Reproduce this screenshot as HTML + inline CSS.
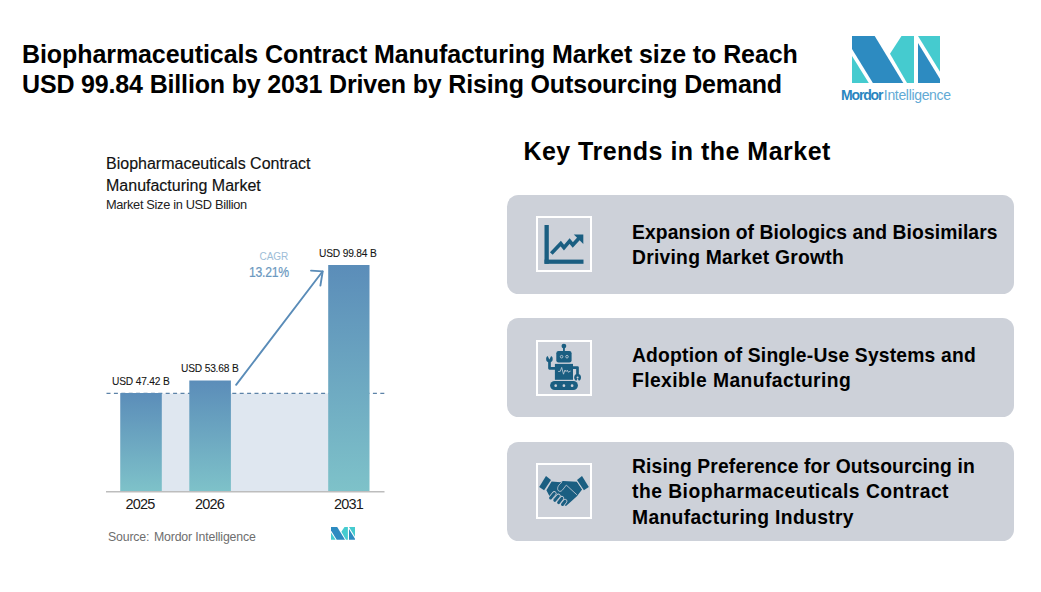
<!DOCTYPE html>
<html>
<head>
<meta charset="utf-8">
<style>
html,body{margin:0;padding:0;background:#fff;}
body{width:1041px;height:592px;position:relative;overflow:hidden;font-family:"Liberation Sans",sans-serif;}
.a{position:absolute;white-space:nowrap;}
#title{left:22px;top:38.7px;font-size:25px;line-height:30px;font-weight:700;color:#000;letter-spacing:-0.16px;}
#kt{left:523.4px;top:138.66px;font-size:25px;line-height:25px;font-weight:700;color:#000;letter-spacing:0.48px;}
.card{position:absolute;left:507px;width:507px;background:#cdd1d9;border-radius:11.5px;}
.ib{position:absolute;left:536px;width:52px;height:52px;border:2px solid #fff;}
.ib svg{position:absolute;left:-2px;top:-2px;}
.ct{position:absolute;left:632px;font-size:19.3px;line-height:25.2px;font-weight:700;color:#000;letter-spacing:0.5px;white-space:nowrap;}
#ctitle{left:106px;top:153px;font-size:16px;line-height:21.5px;color:#111;letter-spacing:0px;-webkit-text-stroke:0.15px #111;}
#csub{left:106px;top:199.3px;font-size:12.8px;line-height:12.8px;color:#222;letter-spacing:-0.33px;}
.val{font-size:11.4px;line-height:11.4px;color:#151515;letter-spacing:-0.2px;-webkit-text-stroke:0.1px #151515;transform:scaleX(0.895);transform-origin:0 0;}
.yr{font-size:14.5px;line-height:14.5px;color:#1a1a1a;letter-spacing:-0.8px;}
</style>
</head>
<body>
<div class="a" id="title"><span style="letter-spacing:-0.08px">Biopharmaceuticals Contract Manufacturing Market size to Reach</span><br><span>USD 99.84 Billion by 2031 Driven by Rising Outsourcing Demand</span></div>

<!-- logo -->
<svg class="a" id="logo" style="left:852px;top:36px" width="88" height="47" viewBox="0 0 88 47">
<polygon points="0,0 22.7,0 51.3,47 20.9,47 0,13.1" fill="#2d8bc1"/>
<polygon points="0,20 0,47 16.8,47" fill="#45cbcf"/>
<polygon points="49.5,0 62,0 62,47 55,47 38,17.7" fill="#45cbcf"/>
<polygon points="66,0 88,0 88,35.7" fill="#45cbcf"/>
<polygon points="66,7.1 88,43 88,47 66,47" fill="#2d8bc1"/>
</svg>
<div class="a" id="logotxt" style="left:841px;top:86.5px;font-size:14px;line-height:16px;"><span style="font-weight:700;color:#2a86bf;letter-spacing:-1.15px">Mordor</span><span style="color:#62aad5;letter-spacing:-0.33px;margin-left:1.5px">Intelligence</span></div>

<!-- chart -->
<div class="a" id="ctitle">Biopharmaceuticals Contract<br>Manufacturing Market</div>
<div class="a" id="csub">Market Size in USD Billion</div>

<svg class="a" id="chart" style="left:0;top:0" width="520" height="592">
<defs>
<linearGradient id="g1" x1="0" y1="0" x2="0" y2="1">
<stop offset="0" stop-color="#5b8db9"/>
<stop offset="1" stop-color="#7ec2c9"/>
</linearGradient>
</defs>
<rect x="120" y="393.5" width="249" height="98" fill="#dfe7f0"/>
<line x1="106.5" y1="393.4" x2="385" y2="393.4" stroke="#5d83a8" stroke-width="1.3" stroke-dasharray="4 3.4"/>
<rect x="120.3" y="393" width="41.5" height="98.5" fill="url(#g1)"/>
<rect x="189.3" y="380.5" width="41.6" height="111" fill="url(#g1)"/>
<rect x="328.2" y="265" width="41.3" height="226.5" fill="url(#g1)"/>
<line x1="106" y1="491.8" x2="384.5" y2="491.8" stroke="#bdbdbd" stroke-width="1.4"/>
<g stroke="#5a8cb8" stroke-width="1.9" fill="none" stroke-linecap="round" stroke-linejoin="round">
<line x1="236.1" y1="384.8" x2="322.5" y2="271.5"/>
<polyline points="311,270.6 322.7,271.4 320.4,285.6"/>
</g>
</svg>

<div class="a val" id="v1" style="left:111.8px;top:375.85px">USD 47.42 B</div>
<div class="a val" id="v2" style="left:180.8px;top:362.85px">USD 53.68 B</div>
<div class="a val" id="v3" style="left:318.8px;top:247.55px">USD 99.84 B</div>
<div class="a" id="cagr" style="left:259.6px;top:252px;font-size:10px;line-height:10px;color:#9dbdd7;letter-spacing:-0.1px">CAGR</div>
<div class="a" id="cagrv" style="left:249px;top:264.5px;font-size:14px;line-height:14px;color:#6a98c0;letter-spacing:-0.3px;-webkit-text-stroke:0.2px #6a98c0;transform:scaleX(0.87);transform-origin:0 0">13.21%</div>

<div class="a yr" id="y1" style="left:125.5px;top:497px">2025</div>
<div class="a yr" id="y2" style="left:195px;top:497px">2026</div>
<div class="a yr" id="y3" style="left:334px;top:497px">2031</div>

<div class="a" id="src" style="left:108px;top:530.5px;font-size:12.3px;line-height:12.3px;color:#6e6e6e;letter-spacing:-0.15px">Source:<span style="margin-left:1.3px"> </span>Mordor Intelligence</div>
<svg class="a" id="slogo" style="left:331px;top:527.3px" width="24" height="12.8" viewBox="0 0 88 47">
<polygon points="0,0 22.7,0 51.3,47 20.9,47 0,13.1" fill="#2d8bc1"/>
<polygon points="0,20 0,47 16.8,47" fill="#45cbcf"/>
<polygon points="49.5,0 62,0 62,47 55,47 38,17.7" fill="#45cbcf"/>
<polygon points="66,0 88,0 88,35.7" fill="#45cbcf"/>
<polygon points="66,7.1 88,43 88,47 66,47" fill="#2d8bc1"/>
</svg>

<!-- key trends -->
<div class="a" id="kt">Key Trends in the Market</div>

<div class="card" id="card1" style="top:195.2px;height:99px"></div>
<div class="card" id="card2" style="top:318.4px;height:98.5px"></div>
<div class="card" id="card3" style="top:442.4px;height:98.2px"></div>

<!-- icon 1: chart -->
<div class="ib" style="top:216px">
<svg width="56" height="56" viewBox="0 0 56 56">
<g fill="#1a5e81">
<rect x="8.5" y="9" width="4.3" height="38.8"/>
<rect x="8.5" y="43.6" width="39" height="4.2"/>
<polygon points="37.8,18.4 47.3,18.4 47.3,27.9"/>
</g>
<polyline points="15.3,37.6 24.8,27.6 28,31.6 33.6,25.1 36.8,28.9 43,22.2" fill="none" stroke="#1a5e81" stroke-width="3.7" stroke-linejoin="miter" stroke-miterlimit="3"/>
</svg>
</div>

<!-- icon 2: robot -->
<div class="ib" style="top:340px">
<svg width="56" height="56" viewBox="0 0 56 56">
<g fill="#1a5e81" stroke="none">
<circle cx="27.9" cy="6.1" r="2.4"/>
<rect x="27" y="6" width="1.85" height="5.5"/>
<rect x="20.3" y="11.1" width="15.3" height="11.3" rx="2.2"/>
<rect x="18.9" y="23.9" width="18.1" height="15.9"/>
<rect x="14.1" y="40.9" width="27.8" height="9.2" rx="4.6"/>
<circle cx="13.4" cy="19.1" r="3.3"/>
<circle cx="41.6" cy="37.5" r="3.4"/>
</g>
<g fill="none" stroke="#1a5e81" stroke-width="2.7" stroke-linejoin="round">
<path d="M19.5 28.3 H13.5 V20"/>
<path d="M36.5 27.6 H41.5 V35.5"/>
</g>
<g fill="#cdd1d9">
<polygon points="11.3,15.3 13.4,19.5 15.5,15.3"/>
<circle cx="41.6" cy="37.6" r="1"/>
<polygon points="40.1,41.3 41.6,38.4 43.1,41.3"/>
<circle cx="19.7" cy="45.7" r="1.35"/>
<circle cx="27.9" cy="45.7" r="1.35"/>
<circle cx="36.1" cy="45.7" r="1.35"/>
</g>
<g fill="none" stroke="#c9d1da" stroke-width="0.8" stroke-linejoin="round">
<circle cx="25.6" cy="16.7" r="1.3"/>
<circle cx="31" cy="16.7" r="1.3"/>
<polyline points="22.2,31.5 24.3,31.3 25.7,27.4 27.5,34.2 29,30 30,31.6 31.3,30.2 32.2,32.2 34.6,31.1"/>
</g>
</svg>
</div>

<!-- icon 3: handshake -->
<div class="ib" style="top:463.3px">
<svg width="56" height="56" viewBox="0 0 56 56">
<polygon points="15.6,18.6 24.7,19.2 27,18.1 40.9,18.8 46.1,26.6 40.9,33.2 36.2,37.5 30,43 14.2,34.5 10.4,27.3" fill="#1a5e81"/>
<path d="M26 19.2 C23 21.5 21 24 21.8 26.8 C22.6 28.9 25 28.8 26.3 27.2 L30.3 22.1 L40.9 31.8" fill="none" stroke="#cdd1d9" stroke-width="0.8"/>
<g stroke-linecap="round" fill="none">
<g stroke="#cdd1d9" stroke-width="4.6">
<line x1="14.6" y1="35" x2="18.3" y2="30.5"/>
<line x1="18.8" y1="37.3" x2="22.4" y2="33"/>
<line x1="22.6" y1="39.6" x2="25.9" y2="35.3"/>
<line x1="26.5" y1="41.5" x2="29.1" y2="38.2"/>
</g>
<g stroke="#1a5e81" stroke-width="3">
<line x1="14.6" y1="35" x2="18.3" y2="30.5"/>
<line x1="18.8" y1="37.3" x2="22.4" y2="33"/>
<line x1="22.6" y1="39.6" x2="25.9" y2="35.3"/>
<line x1="26.5" y1="41.5" x2="29.1" y2="38.2"/>
</g>
</g>
<g fill="#1a5e81" stroke="#cdd1d9" stroke-width="1.6" paint-order="stroke">
<polygon points="10,13.1 15,17.1 8.1,27.3 3.2,24"/>
<polygon points="46,13.1 41,17.1 47.9,27.3 52.8,24"/>
</g>
</svg>
</div>

<div class="ct" id="t1" style="top:219.5px"><span style="letter-spacing:0.09px">Expansion of Biologics and Biosimilars</span><br><span style="letter-spacing:0.25px">Driving Market Growth</span></div>
<div class="ct" id="t2" style="top:342.9px"><span style="letter-spacing:0.19px">Adoption of Single-Use Systems and</span><br><span style="letter-spacing:0.42px">Flexible Manufacturing</span></div>
<div class="ct" id="t3" style="top:453.9px;line-height:25.4px"><span style="letter-spacing:0.15px">Rising Preference for Outsourcing in</span><br><span style="letter-spacing:0.48px">the Biopharmaceuticals Contract</span><br><span style="letter-spacing:0.35px">Manufacturing Industry</span></div>
</body>
</html>
